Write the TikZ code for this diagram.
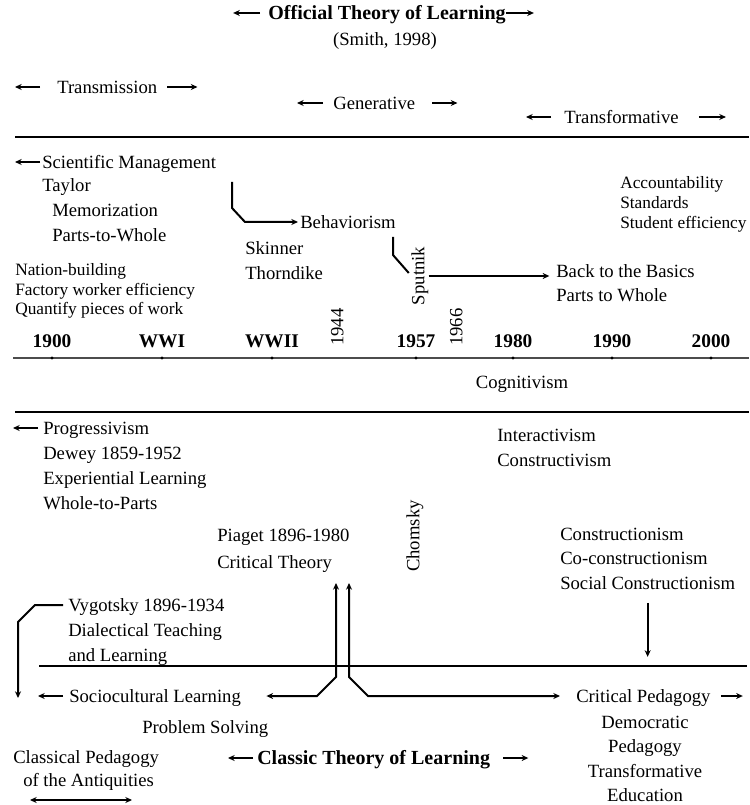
\documentclass[tikz,border=0pt]{standalone}
\usepackage{fontspec}
\setmainfont{Liberation Serif}
\usetikzlibrary{arrows.meta}

\tikzset{
  txt/.style={font=\fontsize{14}{17}\selectfont, inner sep=0pt, text height=9.5pt, text depth=0pt, anchor=west},
  sml/.style={txt, font=\fontsize{13}{16}\selectfont},
  ttl/.style={txt, font=\fontsize{15}{18}\selectfont\bfseries},
  yr/.style={txt, font=\fontsize{14.5}{17}\selectfont\bfseries, anchor=center},
  vert/.style={txt, rotate=90, anchor=center},
  arr/.style={-{Stealth[length=5pt,width=4.5pt]}, line width=1.5pt},
  dbl/.style={{Stealth[length=5pt,width=4.5pt]}-{Stealth[length=5pt,width=4.5pt]}, line width=1.5pt},
  hrule/.style={line width=1.6pt},
}

\begin{document}
\begin{tikzpicture}[x=0.75pt, y=-0.75pt]
  \useasboundingbox (0,0) rectangle (749,805);

  % heading
  \node[ttl, anchor=center] (off) at (387,13) {Official Theory of Learning};
  \node[txt, anchor=center] (smith) at (385,39) {(Smith, 1998)};
  \node[txt] (trans) at (57,87) {Transmission};
  \node[txt] (gen) at (333,103) {Generative};
  \node[txt] (transf) at (564,117) {Transformative};
  \draw[hrule] (15,137) -- (749,137);

  % official side
  \node[txt] (sci) at (42,162) {Scientific Management};
  \node[txt] (tay) at (42,185) {Taylor};
  \node[txt] (mem) at (52,210) {Memorization};
  \node[txt] (ptw) at (52,235) {Parts-to-Whole};
  \foreach \t [count=\i] in {Nation-building, Factory worker efficiency, Quantify pieces of work}
    \node[sml] (nb-\i) at (15,250+19.5*\i) {\t};
  \node[txt] (behav) at (300,222) {Behaviorism};
  \node[txt] (skin) at (245,248) {Skinner};
  \node[txt] (thor) at (245,273) {Thorndike};
  \foreach \t [count=\i] in {Accountability, Standards, Student efficiency}
    \node[sml] (acc-\i) at (620,162+20*\i) {\t};
  \node[vert] (sputnik) at (418,276) {Sputnik};
  \node[txt] (btb) at (556,271) {Back to the Basics};
  \node[txt] (ptw2) at (556,295) {Parts to Whole};

  % time line
  \draw[line width=2.2pt, black!70] (13,358) -- (749,358);
  \foreach \x/\t [count=\i] in {52/1900, 162/WWI, 272/WWII, 416/1957, 513/1980, 612/1990, 711/2000} {
    \node[yr] (yr-\i) at (\x,341) {\t};
    \fill (\x,358) circle (1.3pt);
  }
  \node[vert] (y1944) at (337,327) {1944};
  \node[vert] (y1966) at (456,327) {1966};
  \node[txt, anchor=center] (cog) at (522,382) {Cognitivism};
  \draw[hrule] (15,412) -- (749,412);

  % classic side
  \foreach \t [count=\i] in {Progressivism, Dewey 1859-1952, Experiential Learning, Whole-to-Parts}
    \node[txt] (prog-\i) at (43,403+25*\i) {\t};
  \foreach \t [count=\i] in {Interactivism, Constructivism}
    \node[txt] (int-\i) at (497,410+25*\i) {\t};
  \node[txt] (pia) at (217,535) {Piaget 1896-1980};
  \node[txt] (crt) at (217,562) {Critical Theory};
  \node[vert] (chom) at (413,536) {Chomsky};
  \foreach \t [count=\i] in {Constructionism, Co-constructionism, Social Constructionism}
    \node[txt] (cn-\i) at (560,510+24.3*\i) {\t};
  \foreach \t [count=\i] in {Vygotsky 1896-1934, Dialectical Teaching, and Learning}
    \node[txt] (vyg-\i) at (68,580+25*\i) {\t};
  \draw[hrule] (39,666) -- (747,666);
  \node[txt] (socio) at (69,696) {Sociocultural Learning};
  \node[txt] (prob) at (142,727) {Problem Solving};
  \node[txt] (clp) at (13,757) {Classical Pedagogy};
  \node[txt] (anti) at (23,780) {of the Antiquities};
  \node[ttl] (classic) at (257,758) {Classic Theory of Learning};
  \node[txt] (cped) at (576,696) {Critical Pedagogy};
  \foreach \t [count=\i] in {Democratic, Pedagogy, Transformative, Education}
    \node[txt, anchor=center] (dp-\i) at (645,698+24.3*\i) {\t};

  % arrows beside labels
  \foreach \n/\a/\g/\l in {off/west/-8/-27, off/east/0/28, trans/west/-17/-25, trans/east/10/30,
      gen/west/-10/-26, gen/east/17/25, transf/west/-13/-25, transf/east/20/27,
      sci/west/-2/-25, prog-1/west/-5/-25, socio/west/-6/-25, cped/east/10/22,
      classic/west/-4/-25, classic/east/13/25}
    \draw[arr] (\n.\a) ++(\g,0) -- ++(\l,0);

  % connectors
  \coordinate (beh-top) at (232,182);
  \draw[arr, shorten >=1.5pt] (beh-top) -- ++(0,26) -- ++(13,14) -- (behav.west);
  \coordinate (spk-top) at (393,237);
  \draw[line width=1.5pt, shorten >=3pt] (spk-top) -- ++(0,18) -- (sputnik.north);
  \draw[arr, shorten <=3pt, shorten >=5pt] (sputnik.south) -- (sputnik.south -| btb.west);
  \coordinate (vyg-end) at (18,698);
  \draw[arr] (vyg-1.west) ++(-5,0) -- ++(-28,0) -- ++(-17,17) -- (vyg-end);
  \coordinate (pia-l) at (336,583);
  \coordinate (pia-r) at (349,583);
  \draw[dbl, shorten >=19pt] (pia-l) -- ++(0,94) -- ++(-19,19) -- (socio.east);
  \draw[dbl, shorten >=12pt] (pia-r) -- ++(0,94) -- ++(19,19) -- (cped.west);
  \draw[arr] ([yshift=-10pt]cn-3.south) -- ++(0,54);
  \coordinate (ant-l) at (30,800);
  \coordinate (ant-r) at (132,800);
  \draw[dbl] (ant-l) -- (ant-r);
\end{tikzpicture}
\end{document}
